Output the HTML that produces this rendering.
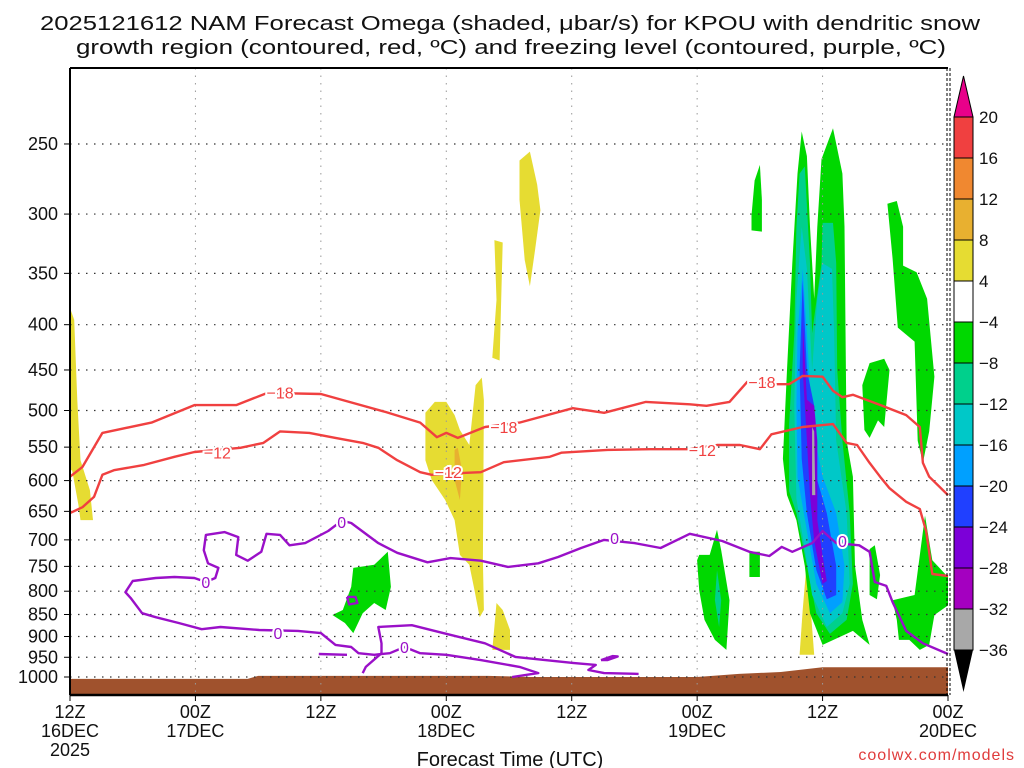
<!DOCTYPE html>
<html><head><meta charset="utf-8"><title>NAM Omega KPOU</title>
<style>html,body{margin:0;padding:0;background:#fff}svg{display:block}text{font-family:"Liberation Sans",sans-serif}</style>
</head><body>
<svg id="chart" width="1024" height="768" viewBox="0 0 1024 768" xmlns="http://www.w3.org/2000/svg">
<text x="40" y="30" font-size="20" textLength="940" lengthAdjust="spacingAndGlyphs" fill="#111">2025121612 NAM Forecast Omega (shaded, μbar/s) for KPOU with dendritic snow</text>
<text x="76" y="54" font-size="20" textLength="870" lengthAdjust="spacingAndGlyphs" fill="#111">growth region (contoured, red, ºC) and freezing level (contoured, purple, ºC)</text>
<g id="shade"></g>
<g id="ground"></g>
<g id="grid"></g>
<g id="contours"></g>
<g id="axes"></g>
<g id="cbar"></g>
<text x="510" y="766" font-size="20" text-anchor="middle" fill="#111">Forecast Time (UTC)</text>
<text x="1015" y="760" font-size="16" text-anchor="end" fill="#e03c3c" letter-spacing="1">coolwx.com/models</text>
</svg>
<script>
// ---- data ----
const pressureTicks=[250,300,350,400,450,500,550,600,650,700,750,800,850,900,950,1000];
const timeTicks=[0,12,24,36,48,60,72,84];
const timeLabels=[["12Z","16DEC","2025"],["00Z","17DEC"],["12Z"],["00Z","18DEC"],["12Z"],["00Z","19DEC"],["12Z"],["00Z","20DEC"]];
const cbarLevels=[20,16,12,8,4,-4,-8,-12,-16,-20,-24,-28,-32,-36];
const cbarColors=["#f04040","#f08830","#e8b030","#e6dc32","#ffffff","#00d800","#00d08c","#00c8c8","#00a0ff","#2040ff","#7c00d8","#a400c0","#a8a8a8"];
const surfacePressure=[[0,1005],[17,1005],[18,997],[40,997],[44,1000],[60,1000],[64,992],[68,987],[72,975],[84,975]];
const yellowLeft=[[0,383],[0.4,395],[0.7,487],[1,569],[1.9,615],[2.2,665],[1,665],[0.8,639],[0.2,584],[0,584]];
const yellow18=[[34,503],[34.9,489],[36,489],[36.8,506],[37.3,526],[38.2,547],[38.8,468],[39.4,459],[39.6,487],[39.5,738],[39.6,840],[39.2,856],[38.7,798],[38.2,747],[37.3,728],[36.8,665],[35.9,631],[34.6,599],[34,569]];
const orange18=[[36.8,554],[37.1,551],[37.5,584],[37.3,631],[36.8,599]];
const yellowStrip1=[[40.6,321],[41.4,323],[41.1,439],[40.4,436],[40.8,375]];
const yellowStrip2=[[43,261],[44,255],[44.7,278],[45,297],[44.5,329],[44,362],[43.5,338],[43,289]];
const yellowLow=[[40.4,932],[40.8,825],[41.4,840],[42.1,885],[42.1,932]];
const yellow19=[[69.8,944],[70.1,840],[70.5,738],[70.8,819],[71.2,944]];
const green17=[[27.1,753],[29.1,747],[30.4,722],[30.7,791],[30.2,840],[29.1,825],[28,847],[27.1,892],[26.3,869],[25.1,851],[26.1,840],[26.9,791]];
const stormGreen=[[69.6,270],[70,242],[70.5,258],[70.8,310],[71.2,374],[71.5,310],[71.9,260],[73,240],[73.9,270],[74.1,310],[74.3,541],[74.9,594],[75.1,749],[75.8,862],[76.5,920],[74.9,887],[72,920],[70.8,847],[70.3,749],[69.5,665],[68.6,623],[68.2,567],[68.6,450],[69.1,341]];
const stormTeal=[[69.8,270],[70.3,265],[70.8,341],[71,409],[71.9,341],[72,307],[73,307],[73.3,341],[73.4,450],[73.9,541],[74.6,653],[74.9,785],[74.3,862],[72.7,894],[71.4,847],[70.5,749],[69.5,653],[68.8,617],[68.8,518],[69.3,409],[69.5,310]];
const stormCyan=[[70,310],[70.5,346],[71,450],[71.5,374],[72,341],[72.9,346],[73.1,409],[73.3,541],[74.3,653],[74.6,785],[73.9,847],[72.4,878],[71,808],[70.3,717],[69.5,629],[69.3,494],[69.5,374]];
const stormLightBlue=[[70.1,346],[70.5,409],[71,518],[72,594],[73.3,653],[74.1,749],[73.9,823],[72.7,847],[71.4,785],[70.5,684],[69.6,594],[69.5,494],[69.6,409]];
const stormBlue=[[70.1,356],[70.5,450],[71.2,494],[71.4,594],[72.4,653],[73.3,749],[73.3,808],[72.4,817],[71.4,757],[70.5,653],[70,567],[69.8,450]];
const stormPurple=[[70.1,395],[70.5,486],[71.2,494],[71.5,541],[71.5,665],[72,730],[72.4,779],[72,785],[71.2,702],[70.8,623],[70.5,541],[70.1,450]];
const stormGray=[[71,522],[71.2,528],[71.3,623],[71,623],[71,567]];
const greenSmall=[[65.2,301],[65.5,275],[66,264],[66.2,289],[66.2,314],[65.2,313]];
const greenRight=[[78.2,292],[79.1,290],[79.7,310],[79.7,343],[81,349],[82,374],[82.7,458],[82.2,528],[81.6,573],[81.1,541],[80.8,418],[79.2,403],[78.7,337]];
const greenMid=[[75.8,468],[76.5,442],[77.9,437],[78.4,450],[77.9,522],[77.3,513],[76.5,537],[76,526]];
const greenLowLeft=[[60,738],[60.2,728],[61.2,728],[61.9,682],[62.3,719],[63.1,819],[62.8,932],[61.7,908],[60.7,862],[60.2,798]];
const tealLowLeft=[[61.9,757],[62.3,819],[62.1,878],[61.7,819]];
const greenTiny=[[65,722],[66,722],[66,771],[65,771]];
const greenNear12=[[76.5,717],[77,710],[77.5,767],[77.2,817],[76.5,808]];
const greenLowRight=[[78.7,819],[80.8,808],[81.8,657],[82.5,738],[84,771],[84,830],[82.7,851],[82.2,920],[81.3,932],[80.3,908],[79.3,908],[79.1,862]];
const minus18Line=[[0,594],[1.2,579],[3.1,530],[7.8,516],[11.9,493],[15.9,493],[18.8,478],[20.3,478],[24,479],[30.2,502],[33.5,516],[35.1,536],[36,530],[37.1,537],[39.7,522],[43,516],[48.1,497],[51.1,503],[55.1,489],[59.3,492],[60.9,494],[63.1,489],[64.8,464],[67.6,467],[68.8,467],[70.1,457],[72,458],[73,475],[73.9,483],[74.9,480],[77.7,494],[80,506],[81.3,522],[81.6,573],[82.2,594],[84,623]];
const minus12Line=[[0,653],[1.2,643],[2.3,626],[3.1,591],[4.2,584],[7.1,576],[10,564],[11.9,557],[16.3,551],[18.5,544],[20.1,528],[22.9,530],[25.4,537],[28,544],[29.5,551],[31.3,569],[33.5,587],[34.6,591],[37.9,588],[39.3,587],[41.5,572],[45.9,564],[47,558],[51.4,554],[55.5,553],[59.3,553],[61.9,547],[64.1,547],[66,553],[67.1,532],[70.1,522],[73,518],[74.3,544],[75.3,547],[76.5,573],[77.5,594],[78.4,612],[80,634],[81.3,646],[81.9,684],[82.5,765],[84,769]];
const zeroLineMain=[[84,942],[81.6,916],[80,887],[78.7,823],[78.1,789],[77,781],[76.5,722],[75.5,710],[73.3,706],[72,684],[71,706],[69.1,722],[68.1,713],[66.9,730],[65,722],[62.4,702],[59.3,689],[56.5,715],[54,706],[51.1,700],[48.9,715],[46.7,732],[44.8,744],[41.9,751],[39.3,739],[36.4,734],[34.2,742],[31.3,724],[29.5,706],[26.9,670],[26,666],[24.7,684],[22.5,706],[21,710],[20.1,691],[18.8,689],[18.3,722],[17,739],[15.9,728],[16.1,695],[14.8,686],[13,691],[12.8,719],[13.2,744],[14.2,753],[13.9,773],[13,781],[11.9,773],[10,771],[8.2,773],[6,779],[5.3,802],[5.8,814],[6.9,847],[8.2,856],[10.4,869],[12.6,883],[14.4,878],[18.1,885],[21.8,887],[24,892],[25.4,920],[26.9,925],[27.6,940],[29.1,944],[30.6,940],[32,925],[33.5,940],[36,944],[39.3,957],[43,974],[44.8,990],[42.3,1000]];
const zeroLineLow=[[28,990],[28.3,974],[29.8,940],[29.8,916],[29.5,878],[32.7,874],[35.7,892],[39.7,916],[42.6,949],[48.1,964],[50.3,969],[49.6,982],[51.1,990],[54.4,992]];
const zeroLineShort=[[23.8,942],[26.5,944]];
const zeroLoop1=[[26.5,812],[27.3,812],[27.5,825],[26.7,828],[26.5,812]];
const zeroLoop2=[[50.8,957],[51.9,947],[52.4,948],[51.4,957],[50.8,957]];
const minus18Labels=[[20.1,477],[41.5,522],[66.2,464]];
const minus12Labels=[[14.1,558],[36.2,587],[60.5,554]];
const zeroLabels=[[26,668],[13,781],[19.9,892],[32,925],[52.1,697],[73.9,702]];

const X0=70,X1=948,Y0=68,Y1=695,HMAX=84;
function xs(h){return X0+(X1-X0)*h/HMAX;}
function ys(p){return 677-384.5*Math.log(1000/p);}
const NS="http://www.w3.org/2000/svg";
function mk(tag,attrs,parent){const e=document.createElementNS(NS,tag);for(const k in attrs)e.setAttribute(k,attrs[k]);parent.appendChild(e);return e;}
function pts(a){return a.map(d=>xs(d[0]).toFixed(1)+","+ys(d[1]).toFixed(1)).join(" ");}

const shade=document.getElementById('shade');
const C=cbarColors;
const areas=[[yellowLeft,C[3],'yellow-area-left'],[yellow18,C[3],'yellow-area-18dec'],[orange18,C[2],'orange-area-18dec'],[yellowStrip1,C[3],'yellow-strip-upper-1'],[yellowStrip2,C[3],'yellow-strip-upper-2'],[yellowLow,C[3],'yellow-area-low'],[yellow19,C[3],'yellow-area-19dec'],
[green17,C[5],'green-area-17dec'],[stormGreen,C[5],'storm-green'],[stormTeal,C[6],'storm-teal'],[stormCyan,C[7],'storm-cyan'],[stormLightBlue,C[8],'storm-light-blue'],[stormBlue,C[9],'storm-blue'],[stormPurple,C[10],'storm-purple'],[stormGray,C[12],'storm-gray'],
[greenSmall,C[5],'green-area-small'],[greenRight,C[5],'green-area-right'],[greenMid,C[5],'green-area-mid'],[greenLowLeft,C[5],'green-area-low-left'],[tealLowLeft,C[6],'teal-area-low-left'],[greenTiny,C[5],'green-area-tiny'],[greenNear12,C[5],'green-area-near-12z'],[greenLowRight,C[5],'green-area-low-right']];
areas.forEach(a=>{
  const el=mk('polygon',{points:pts(a[0]),fill:a[1]},shade);
  
  
});

const gEl=mk('polygon',{points:surfacePressure.map(d=>xs(d[0])+","+ys(d[1])).join(" ")+" "+X1+","+Y1+" "+X0+","+Y1,fill:"#a0522d"},document.getElementById('ground'));



const grid=document.getElementById('grid');
pressureTicks.forEach(p=>{
  const l=mk('line',{x1:X0,x2:X1,y1:ys(p),y2:ys(p),stroke:"#333","stroke-width":1.2,"stroke-dasharray":"1.5 6.5"},grid);
  
  
});
timeTicks.slice(1,-1).forEach(h=>{
  const l=mk('line',{x1:xs(h),x2:xs(h),y1:Y0,y2:Y1,stroke:"#999","stroke-width":1,"stroke-dasharray":"1.5 6"},grid);
  
  
});

const cg=document.getElementById('contours');
function line(a,col,name){const l=mk('polyline',{points:pts(a),fill:"none",stroke:col,"stroke-width":2.4,"stroke-linejoin":"round"},cg);
  
  }
line(minus18Line,"#f04040","contour-minus-18");
line(minus12Line,"#f04040","contour-minus-12");
[zeroLineMain,zeroLineLow,zeroLineShort,zeroLoop1,zeroLoop2].forEach((a,i)=>line(a,"#9a10c8","freezing-level-"+i));
function lab(a,txt,col){a.forEach(d=>{
  const x=xs(d[0]),y=ys(d[1]);
  const t=mk('text',{x:x,y:y+6,"font-size":16,"text-anchor":"middle",fill:col,stroke:"#fff","stroke-width":4,"paint-order":"stroke"},cg);
  t.textContent=txt;
  
  
});}
lab(minus18Labels,"−18","#f04040");
lab(minus12Labels,"−12","#f04040");
lab(zeroLabels,"0","#9a10c8");

const ax=document.getElementById('axes');
mk('line',{x1:X0,x2:X0,y1:Y0,y2:Y1,stroke:"#000","stroke-width":2},ax);
mk('line',{x1:X0,x2:X1,y1:Y0,y2:Y0,stroke:"#000","stroke-width":2},ax);
mk('line',{x1:X0,x2:X1,y1:Y1,y2:Y1,stroke:"#000","stroke-width":2.5},ax);
mk('line',{x1:X1-1,x2:X1-1,y1:Y0,y2:Y1,stroke:"#000","stroke-width":1,"stroke-dasharray":"3 2"},ax);
mk('line',{x1:X1+2,x2:X1+2,y1:Y0,y2:Y1,stroke:"#000","stroke-width":1,"stroke-dasharray":"3 2"},ax);
pressureTicks.forEach(p=>{
  mk('line',{x1:X0-6,x2:X0,y1:ys(p),y2:ys(p),stroke:"#000","stroke-width":1},ax);
  const t=mk('text',{x:58,y:ys(p)+6,"font-size":18,"text-anchor":"end",fill:"#111"},ax);
  t.textContent=p;
  
  
});
timeTicks.forEach((h,i)=>{
  mk('line',{x1:xs(h),x2:xs(h),y1:Y1,y2:Y1+6,stroke:"#000","stroke-width":1},ax);
  timeLabels[i].forEach((s,j)=>{
    const t=mk('text',{x:xs(h),y:718+j*19,"font-size":18,"text-anchor":"middle",fill:"#111"},ax);
    t.textContent=s;
    
    
  });
});

const cb=document.getElementById('cbar');
const CBX=954,CBW=19,CBT=117,CBH=41;
mk('polygon',{points:`${CBX},${CBT} ${CBX+CBW},${CBT} ${CBX+CBW/2},76`,fill:"#e8008a",stroke:"#000","stroke-width":1},cb);
cbarColors.forEach((c,i)=>{
  const r=mk('rect',{x:CBX,y:CBT+i*CBH,width:CBW,height:CBH,fill:c,stroke:"#000","stroke-width":1},cb);
  
  
});
const cbBot=CBT+cbarColors.length*CBH;
mk('polygon',{points:`${CBX},${cbBot} ${CBX+CBW},${cbBot} ${CBX+CBW/2},692`,fill:"#000"},cb);
cbarLevels.forEach((v,i)=>{
  const t=mk('text',{x:979,y:CBT+i*CBH+6,"font-size":17,fill:"#111"},cb);
  t.textContent=(v<0?"−":"")+Math.abs(v);
  
  
});
</script>
</body></html>
